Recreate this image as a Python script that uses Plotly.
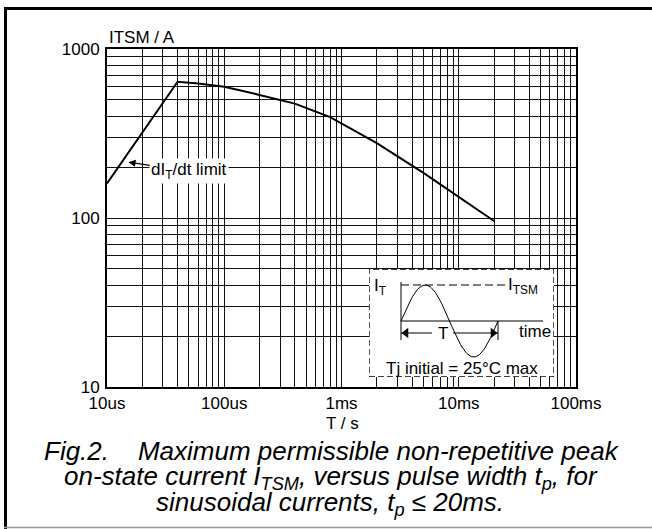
import numpy as np
import plotly.graph_objects as go

# ---- data ----
pulse_width_s = [1e-5, 4e-5, 6e-5, 1e-4, 2e-4, 4e-4, 8e-4, 2e-3, 5e-3, 1e-2, 2e-2]
itsm_a = [160, 640, 625, 598, 535, 475, 395, 277, 185, 133, 96]

x_decades = [1e-5, 1e-4, 1e-3, 1e-2, 1e-1]
x_tick_labels = ["10us", "100us", "1ms", "10ms", "100ms"]
y_decades = [10, 100, 1000]
y_tick_labels = ["10", "100", "1000"]

FONT = "Liberation Sans, Arial, Helvetica, sans-serif"

W, H = 652, 529
L, R, T, B = 107, 576, 49, 387


def px(xp):
    return (xp - L) / (R - L)


def py(yp):
    return (B - yp) / (B - T)


fig = go.Figure()
fig.add_trace(go.Scatter(x=pulse_width_s, y=itsm_a, mode="lines",
                         line=dict(color="black", width=2), showlegend=False,
                         hoverinfo="skip"))

# ---- inset (schematic, on its own axes in pixel-like units) ----
ix0, ix1, iy0, iy1 = 369, 554, 269, 377
iw, ih = ix1 - ix0, iy1 - iy0
box_u = [0, iw, iw, 0, 0]
box_v = [0, 0, ih, ih, 0]
fig.add_trace(go.Scatter(x=box_u, y=box_v, xaxis="x2", yaxis="y2", mode="lines",
                         fill="toself", fillcolor="white",
                         line=dict(color="black", width=1.3, dash="6px,3px"),
                         showlegend=False, hoverinfo="skip"))
u0, v0, period, amp = 32, 56, 97, 36
u1 = u0 + period
uu = np.linspace(u0, u1, 120)
fig.add_trace(go.Scatter(x=uu, y=v0 + amp * np.sin(2 * np.pi * (uu - u0) / period),
                         xaxis="x2", yaxis="y2", mode="lines",
                         line=dict(color="black", width=1), showlegend=False,
                         hoverinfo="skip"))
va = 44  # level of the T dimension arrow
fig.add_trace(go.Scatter(x=[u0, u0, None, u0, 174, None, u1, u1, None, u0, 63, None, 84, u1],
                         y=[95, 37, None, v0, v0, None, v0, 37, None, va, va, None, va, va],
                         xaxis="x2", yaxis="y2", mode="lines",
                         line=dict(color="black", width=1), showlegend=False,
                         hoverinfo="skip"))
fig.add_trace(go.Scatter(x=[u0 + 5, u1 - 5], y=[va, va], xaxis="x2", yaxis="y2",
                         mode="markers",
                         marker=dict(symbol=["triangle-left", "triangle-right"], size=9,
                                     color="black", line=dict(width=0)),
                         showlegend=False, hoverinfo="skip"))
fig.add_trace(go.Scatter(x=[u0, 136], y=[v0 + amp, v0 + amp], xaxis="x2", yaxis="y2",
                         mode="lines", line=dict(color="black", width=1, dash="8px,4px"),
                         showlegend=False, hoverinfo="skip"))

grid = dict(showgrid=True, gridcolor="#111", gridwidth=1, dtick="D1")

fig.update_layout(
    width=W, height=H, autosize=False,
    margin=dict(l=L, r=W - R, t=T, b=H - B, pad=0),
    paper_bgcolor="white", plot_bgcolor="white",
    font=dict(family=FONT, size=17, color="black"),
    xaxis=dict(type="log", range=[-5, -1], tickvals=x_decades, ticktext=x_tick_labels,
               showgrid=True, gridcolor="#111", gridwidth=1, ticks="", minor=grid,
               showline=True, linecolor="black", linewidth=2, mirror=True,
               zeroline=False, tickfont=dict(size=17)),
    yaxis=dict(type="log", range=[1, 3], tickvals=y_decades, ticktext=y_tick_labels,
               showgrid=True, gridcolor="#111", gridwidth=1, ticks="", minor=grid,
               showline=True, linecolor="black", linewidth=2, mirror=True,
               zeroline=False, tickfont=dict(size=17), ticklabelstandoff=2),
    xaxis2=dict(domain=[px(ix0), px(ix1)], range=[0, iw], anchor="y2",
                visible=False, fixedrange=True),
    yaxis2=dict(domain=[py(iy1), py(iy0)], range=[0, ih], anchor="x2",
                visible=False, fixedrange=True),
)

ann = []
ann.append(dict(text="ITSM / A", xref="paper", yref="paper", x=0, y=py(38),
                xanchor="left", yanchor="middle", showarrow=False, font=dict(size=17)))
ann.append(dict(text="T / s", xref="paper", yref="paper", x=px(342), y=py(423),
                xanchor="center", yanchor="middle", showarrow=False, font=dict(size=17)))
ann.append(dict(text="dI<sub>T</sub>/dt limit", x=np.log10(1.52e-5), y=np.log10(214),
                xref="x", yref="y", ax=61, ay=9, showarrow=True, arrowhead=2,
                arrowsize=1.2, arrowwidth=1.2, arrowcolor="black",
                bgcolor="white", font=dict(size=17), borderpad=1))
ann.append(dict(text="I<sub>T</sub>", xref="x2", yref="y2", x=3, y=90,
                xanchor="left", yanchor="middle", showarrow=False, font=dict(size=17)))
ann.append(dict(text="I<sub>TSM</sub>", xref="x2", yref="y2", x=137, y=91,
                xanchor="left", yanchor="middle", showarrow=False, font=dict(size=17)))
ann.append(dict(text="time", xref="x2", yref="y2", x=148, y=46,
                xanchor="left", yanchor="middle", showarrow=False, font=dict(size=17)))
ann.append(dict(text="T", xref="x2", yref="y2", x=74, y=va,
                xanchor="center", yanchor="middle", showarrow=False, font=dict(size=17)))
ann.append(dict(text="Tj initial = 25°C max", xref="x2", yref="y2", x=93, y=9,
                xanchor="center", yanchor="middle", showarrow=False, font=dict(size=17)))
cap_font = dict(size=26)
ann.append(dict(text="<i>Fig.2.\u00a0\u00a0\u00a0 Maximum permissible non-repetitive peak</i>",
                xref="paper", yref="paper", x=px(332), y=py(451), xanchor="center",
                yanchor="middle", showarrow=False, font=cap_font))
ann.append(dict(text="<i>on-state current I<sub>TSM</sub>, versus pulse width t<sub>p</sub>, for</i>",
                xref="paper", yref="paper", x=px(331), y=py(477), xanchor="center",
                yanchor="middle", showarrow=False, font=cap_font))
ann.append(dict(text="<i>sinusoidal currents, t<sub>p</sub> \u2264 20ms.</i>",
                xref="paper", yref="paper", x=px(330), y=py(503), xanchor="center",
                yanchor="middle", showarrow=False, font=cap_font))
fig.update_layout(annotations=ann)

fig.add_shape(type="line", xref="paper", yref="paper", x0=px(5.5), x1=px(5.5),
              y0=py(7), y1=py(529), line=dict(color="black", width=3))
fig.add_shape(type="line", xref="paper", yref="paper", x0=px(4), x1=px(652),
              y0=py(8.5), y1=py(8.5), line=dict(color="black", width=3))
fig.add_shape(type="line", xref="paper", yref="paper", x0=px(4), x1=px(652),
              y0=py(527.5), y1=py(527.5), line=dict(color="#999", width=1.5))

fig.write_html("out.html", config={"displayModeBar": False},
               post_script="document.body.style.margin='0px';")
